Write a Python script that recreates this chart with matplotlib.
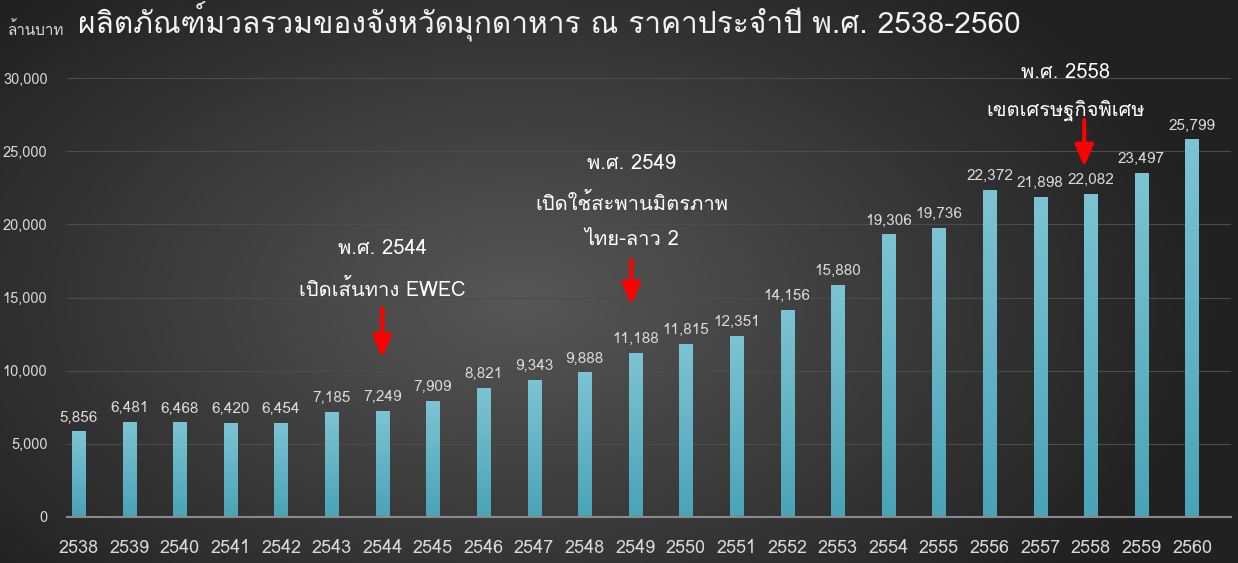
import numpy as np
import matplotlib
matplotlib.use("Agg")
import matplotlib.pyplot as plt
from matplotlib import font_manager
from matplotlib.ft2font import FT2Font
from matplotlib.colors import LinearSegmentedColormap

years = ["2538", "2539", "2540", "2541", "2542", "2543", "2544", "2545", "2546", "2547", "2548",
         "2549", "2550", "2551", "2552", "2553", "2554", "2555", "2556", "2557", "2558", "2559", "2560"]
gpp = [5856, 6481, 6468, 6420, 6454, 7185, 7249, 7909, 8821, 9343, 9888,
       11188, 11815, 12351, 14156, 15880, 19306, 19736, 22372, 21898, 22082, 23497, 25799]
yticks = [0, 5000, 10000, 15000, 20000, 25000, 30000]

title = "ผลิตภัณฑ์มวลรวมของจังหวัดมุกดาหาร ณ ราคาประจำปี พ.ศ. 2538-2560"
unit = "ล้านบาท"
notes = [
    ("2544", ["พ.ศ. 2544", "เปิดเส้นทาง EWEC"]),
    ("2549", ["พ.ศ. 2549", "เปิดใช้สะพานมิตรภาพ", "ไทย-ลาว 2"]),
    ("2558", ["พ.ศ. 2558", "เขตเศรษฐกิจพิเศษ"]),
]

# find a font that has Thai glyphs
thai_font = None
for fe in font_manager.fontManager.ttflist:
    try:
        f = FT2Font(fe.fname)
        cm = f.get_charmap()
        if 0x0E1C in cm and 0x0E34 in cm:
            thai_font = fe.name
            break
    except Exception:
        pass
fams = ([thai_font] if thai_font else []) + ["DejaVu Sans"]
plt.rcParams["font.family"] = fams

W, H = 1238, 563
fig = plt.figure(figsize=(W / 100, H / 100), dpi=100)

# background radial gradient
bg = fig.add_axes([0, 0, 1, 1])
yy, xx = np.mgrid[0:H, 0:W]
r = np.sqrt(((xx - 520) / 700.0) ** 2 + ((yy - 300) / 420.0) ** 2)
r = np.clip(r, 0, 1)
c = 0.34 - 0.21 * r
bg.imshow(np.dstack([c, c, c]), extent=[0, W, H, 0], aspect="auto")
bg.axis("off")

ax = fig.add_axes([67 / W, (H - 517) / H, (1231 - 67) / W, (517 - 78) / H])
ax.set_facecolor("none")
x = np.arange(len(years))
bars = ax.bar(x, gpp, width=0.26, color="#5db3c6", zorder=3)

# gradient on bars
grad = np.linspace(0, 1, 256).reshape(-1, 1)
cmap = LinearSegmentedColormap.from_list("b", ["#4aa3b7", "#7cc4d3"])
for b in bars:
    bx, by = b.get_x(), b.get_y()
    bw, bh = b.get_width(), b.get_height()
    im = ax.imshow(grad, extent=[bx, bx + bw, by, by + bh], origin="lower",
                   cmap=cmap, aspect="auto", zorder=3.5)
    im.set_clip_path(b)

ax.set_xlim(-0.23, 22.77)
ax.set_ylim(0, 30000)
ax.set_yticks(yticks)
ax.set_yticklabels([f"{v:,}" for v in yticks], fontsize=10.5, color="#d9d9d9")
ax.set_xticks(x)
ax.set_xticklabels(years, fontsize=13, color="#d9d9d9")
ax.tick_params(axis="both", length=0)
ax.tick_params(axis="x", pad=16)
ax.tick_params(axis="y", pad=14)
ax.yaxis.grid(True, color="#4c4c4c", linewidth=0.8, zorder=0)
for s in ["top", "right", "left"]:
    ax.spines[s].set_visible(False)
ax.spines["bottom"].set_color("#8a8a8a")
ax.spines["bottom"].set_linewidth(1.5)
ax.spines["bottom"].set_zorder(5)

for xi, v in zip(x, gpp):
    ax.annotate(f"{v:,}", (xi, v), xytext=(0, 5), textcoords="offset points",
                ha="center", va="bottom", fontsize=11, color="#d9d9d9")

fig.text(78 / W, 1 - 22 / H, title, fontsize=21.5, color="#f2f2f2", va="center", ha="left")
fig.text(8 / W, 1 - 30 / H, unit, fontsize=11, color="#d9d9d9", va="center", ha="left")

# annotations: (x of text, y lines, arrow x, arrow y0, y1)
layout = {
    "2544": (6.0, [18380, 15580], 6.0, 14280, 10870),
    "2549": (10.93, [24190, 21460, 18930], 10.92, 17560, 14490),
    "2558": (19.5, [30410, 27810], 19.87, 27130, 23920),
}
for yr, lines in notes:
    tx, tys, axx, ay0, ay1 = layout[yr]
    for line, ty in zip(lines, tys):
        ax.text(tx, ty, line, ha="center", va="center", fontsize=14.5, color="#ffffff",
                zorder=6, clip_on=False)
    ax.annotate("", xy=(axx, ay1), xytext=(axx, ay0),
                arrowprops=dict(arrowstyle="-|>,head_width=0.55,head_length=1.3",
                                color="#ff0000", lw=3, shrinkA=0, shrinkB=0),
                zorder=6, annotation_clip=False)

fig.savefig("out.png", dpi=100)
